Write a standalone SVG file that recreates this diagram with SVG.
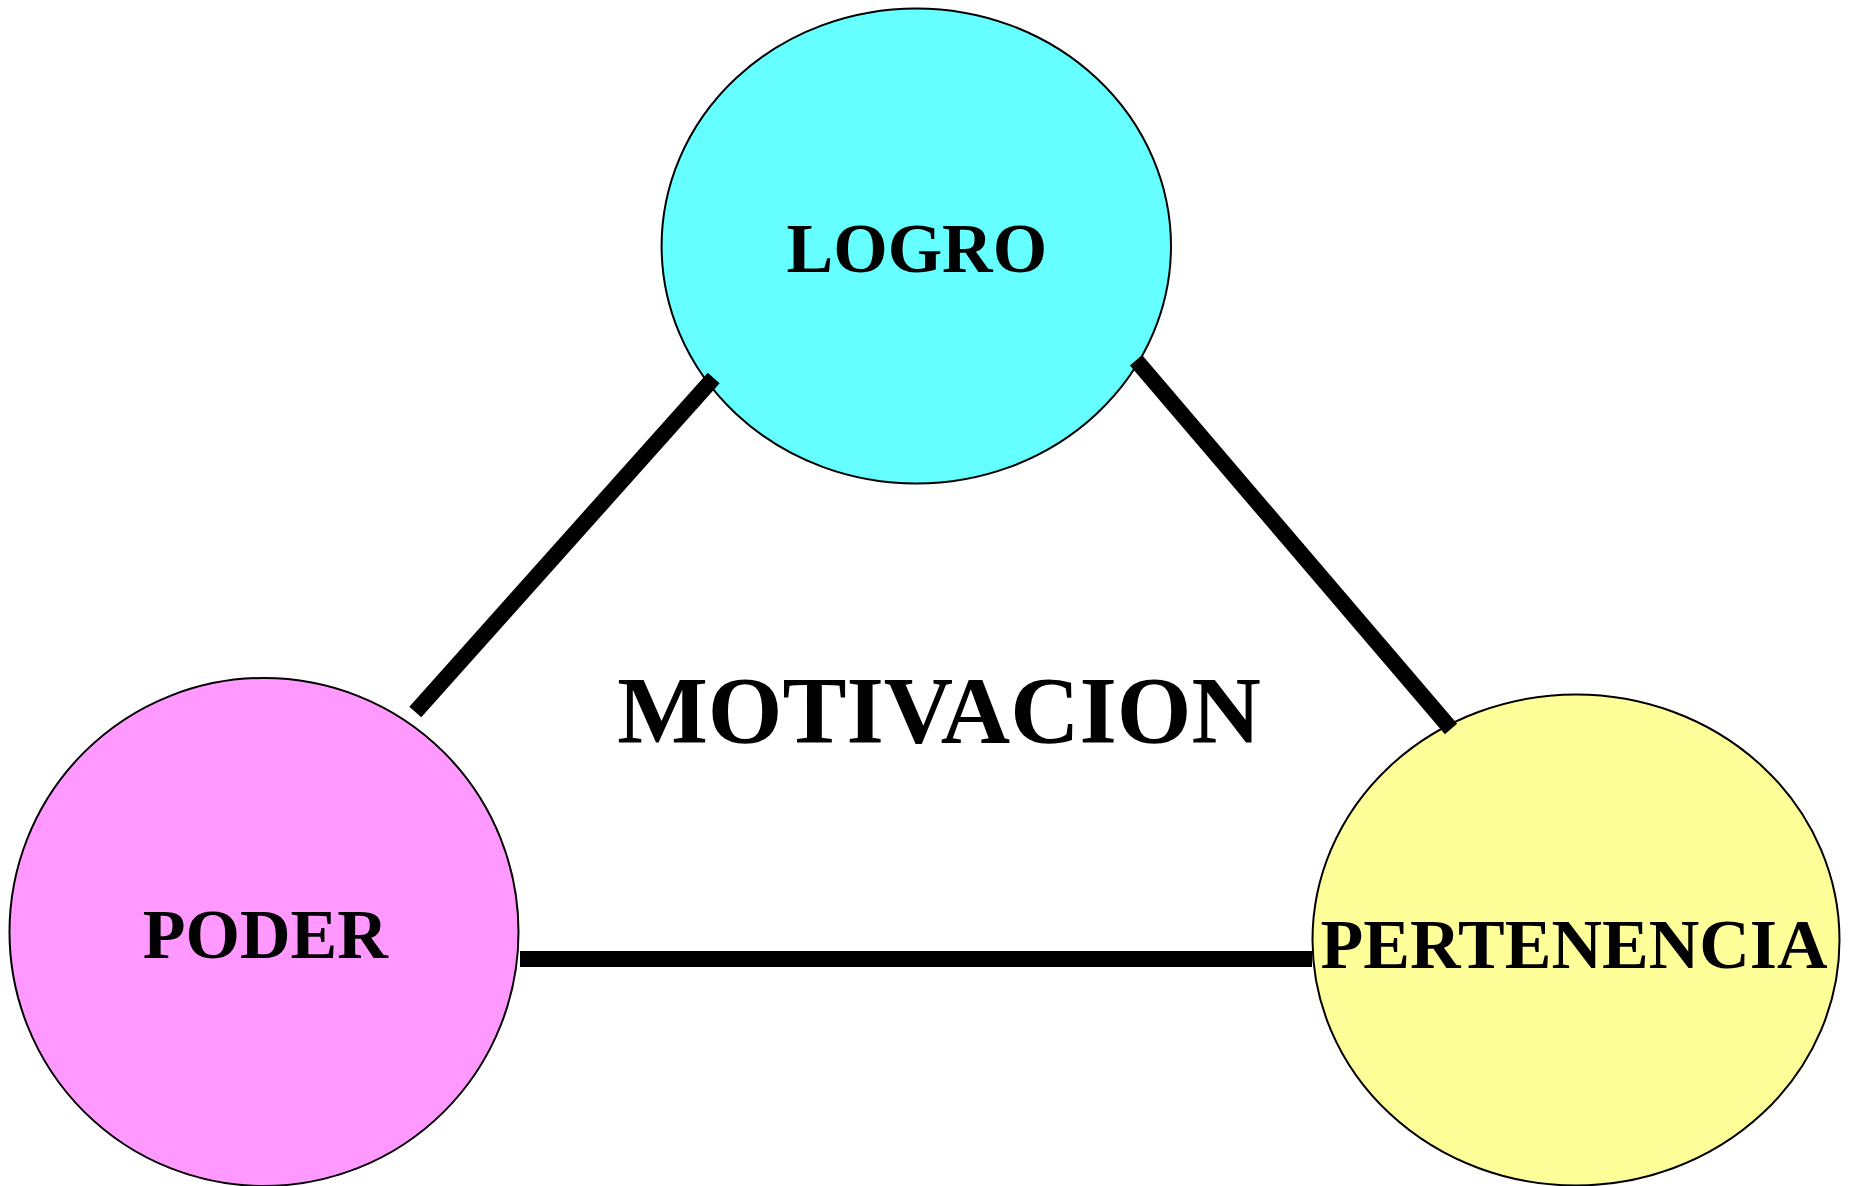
<svg xmlns="http://www.w3.org/2000/svg" width="1849" height="1186" viewBox="0 0 1849 1186">
<style>
.node{stroke:#000;stroke-width:2}
.lbl{font-family:"Liberation Serif","Times New Roman",serif;font-weight:bold;text-anchor:middle;fill:#000}
.conn line{stroke:#000;stroke-width:16;stroke-linecap:butt}
</style>
<rect width="1849" height="1186" fill="#fff"/>
<g id="logro"><ellipse class="node" cx="916.3" cy="246" rx="254.7" ry="237.6" fill="#66FFFF"/></g>
<g id="poder"><ellipse class="node" cx="264" cy="932" rx="254.5" ry="254" fill="#FF99FF"/></g>
<g id="pertenencia"><ellipse class="node" cx="1576" cy="940" rx="263.5" ry="245.5" fill="#FFFF99"/></g>
<g id="connectors" class="conn">
<line x1="713.7" y1="378" x2="415.3" y2="712"/>
<line x1="1136" y1="360.3" x2="1451" y2="729"/>
<line x1="520" y1="959" x2="1312" y2="959"/>
</g>
<text class="lbl" x="916.8" y="272.4" font-size="70">LOGRO</text>
<text class="lbl" x="265.3" y="957.5" font-size="70">PODER</text>
<text class="lbl" x="1574" y="968" font-size="70">PERTENENCIA</text>
<text id="motivacion" class="lbl" x="939" y="743" font-size="96">MOTIVACION</text>
</svg>
